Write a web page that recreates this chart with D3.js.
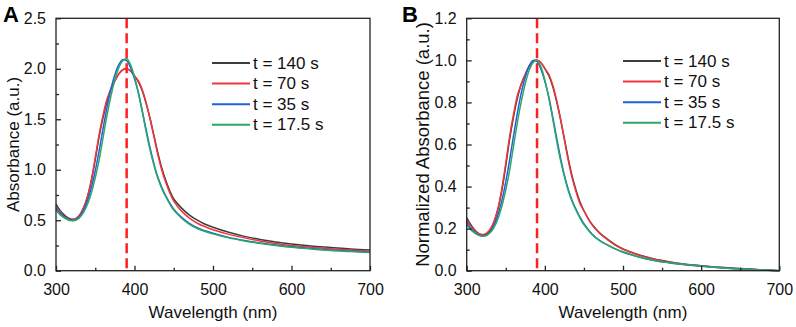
<!DOCTYPE html>
<html><head><meta charset="utf-8">
<script src="https://cdn.jsdelivr.net/npm/d3@7"></script>
<style>html,body{margin:0;padding:0;background:#fff;} svg{display:block;}</style>
</head><body>
<svg id="c" width="796" height="327"></svg>
<script>
const wavelengths = [300,305,310,315,320,325,330,335,340,345,350,355,360,365,370,375,380,385,390,395,400,405,410,415,420,425,430,435,440,445,450,460,470,480,490,500,520,540,560,580,600,625,650,675,700];
const seriesNames = ["t = 140 s","t = 70 s","t = 35 s","t = 17.5 s"];
const seriesColors = ["#3c3c3c","#f2353a","#2060dc","#2aa865"];

// Panel A: absorbance
const absT140 = [0.66,0.60,0.555,0.525,0.51,0.515,0.55,0.62,0.73,0.89,1.10,1.33,1.52,1.68,1.80,1.88,1.95,1.99,2.00,1.98,1.93,1.87,1.78,1.65,1.50,1.33,1.16,1.01,0.89,0.79,0.71,0.62,0.55,0.50,0.46,0.43,0.38,0.34,0.31,0.285,0.265,0.245,0.23,0.215,0.205];
const absT70  = [0.63,0.58,0.54,0.515,0.505,0.515,0.55,0.62,0.73,0.90,1.12,1.35,1.54,1.70,1.80,1.88,1.95,1.99,2.00,1.98,1.93,1.88,1.79,1.66,1.50,1.32,1.14,0.99,0.87,0.77,0.69,0.59,0.52,0.47,0.435,0.405,0.36,0.325,0.295,0.27,0.25,0.233,0.218,0.205,0.195];
const absT35  = [0.62,0.57,0.535,0.51,0.50,0.505,0.535,0.595,0.69,0.82,0.99,1.19,1.41,1.62,1.80,1.94,2.04,2.09,2.08,2.01,1.90,1.76,1.58,1.39,1.21,1.05,0.92,0.82,0.74,0.67,0.61,0.53,0.47,0.425,0.395,0.37,0.33,0.30,0.275,0.255,0.237,0.22,0.205,0.194,0.185];
const absT17  = [0.60,0.555,0.525,0.505,0.495,0.50,0.525,0.575,0.655,0.77,0.92,1.10,1.32,1.54,1.73,1.89,2.01,2.08,2.10,2.04,1.92,1.76,1.57,1.37,1.19,1.04,0.91,0.81,0.73,0.66,0.60,0.52,0.46,0.418,0.388,0.365,0.325,0.295,0.27,0.25,0.232,0.215,0.20,0.19,0.18];

// Panel B: normalized absorbance
const normT140 = [0.253,0.220,0.195,0.178,0.170,0.173,0.192,0.231,0.292,0.382,0.499,0.627,0.733,0.822,0.889,0.933,0.972,0.994,1.000,0.989,0.961,0.928,0.877,0.805,0.721,0.627,0.532,0.448,0.382,0.326,0.285,0.222,0.180,0.150,0.124,0.104,0.076,0.056,0.042,0.031,0.024,0.016,0.010,0.005,0];
const normT70  = [0.241,0.213,0.191,0.177,0.172,0.177,0.197,0.235,0.296,0.391,0.512,0.640,0.745,0.834,0.889,0.934,0.972,0.994,1.000,0.989,0.961,0.934,0.884,0.812,0.723,0.623,0.524,0.440,0.374,0.319,0.285,0.220,0.178,0.148,0.122,0.102,0.074,0.054,0.040,0.030,0.023,0.015,0.009,0.004,0];
const normT35  = [0.228,0.202,0.184,0.171,0.165,0.168,0.184,0.215,0.265,0.333,0.423,0.528,0.643,0.753,0.848,0.921,0.974,1.000,0.995,0.958,0.900,0.827,0.732,0.633,0.538,0.454,0.386,0.333,0.291,0.255,0.223,0.176,0.144,0.123,0.104,0.088,0.065,0.048,0.037,0.028,0.021,0.014,0.008,0.004,0];
const normT17  = [0.219,0.195,0.180,0.169,0.164,0.167,0.180,0.206,0.247,0.307,0.385,0.479,0.594,0.708,0.807,0.891,0.953,0.990,1.000,0.969,0.906,0.823,0.724,0.620,0.526,0.448,0.380,0.328,0.286,0.250,0.219,0.174,0.143,0.122,0.104,0.090,0.066,0.049,0.038,0.029,0.022,0.014,0.008,0.004,0];

const xTicks = [300,400,500,600,700];
const yTicksA = [0.0,0.5,1.0,1.5,2.0,2.5];
const yTicksB = [0.0,0.2,0.4,0.6,0.8,1.0,1.2];
const markerWavelength = 390;

const svg = d3.select("#c");
const FONT = "'Liberation Sans', Arial, sans-serif";

function panel(opts){
  const {left,right,top,bottom,yMax,yTicks,yMinor,series,yTitle,yTitleSize,letter,letterX,yTitleX,legendX,legendY} = opts;
  const g = svg.append("g");
  const x = d3.scaleLinear().domain([300,700]).range([left,right]);
  const y = d3.scaleLinear().domain([0,yMax]).range([bottom,top]);

  const line = d3.line().x((d,i)=>x(wavelengths[i])).y(d=>y(d)).curve(d3.curveCatmullRom.alpha(0.5));
  series.forEach((s,k)=>{
    g.append("path").attr("d", line(s)).attr("fill","none")
      .attr("stroke", seriesColors[k]).attr("stroke-width",1.5);
  });

  g.append("line").attr("x1",x(markerWavelength)).attr("x2",x(markerWavelength))
    .attr("y1",top).attr("y2",bottom).attr("stroke","#ff1f1f").attr("stroke-width",2.5)
    .attr("stroke-dasharray","10,5");

  g.append("rect").attr("x",left).attr("y",top).attr("width",right-left).attr("height",bottom-top)
    .attr("fill","none").attr("stroke","#222").attr("stroke-width",1.3);

  const xMinor = d3.range(350,700,100);
  const xa = g.append("g").attr("transform",`translate(0,${bottom})`)
    .call(d3.axisBottom(x).tickValues(xTicks).tickSize(-5).tickPadding(13).tickFormat(d3.format("d")));
  xa.select(".domain").remove();
  xa.selectAll("text").attr("font-family",FONT).attr("font-size",16).attr("fill","#111");
  xa.selectAll("line").attr("stroke","#222").attr("stroke-width",1.3);
  const xm = g.append("g").attr("transform",`translate(0,${bottom})`)
    .call(d3.axisBottom(x).tickValues(xMinor).tickSize(-3).tickFormat(""));
  xm.select(".domain").remove();
  xm.selectAll("line").attr("stroke","#222").attr("stroke-width",1.3);

  const ya = g.append("g").attr("transform",`translate(${left},0)`)
    .call(d3.axisLeft(y).tickValues(yTicks).tickSize(-5).tickPadding(10).tickFormat(d3.format(".1f")));
  ya.select(".domain").remove();
  ya.selectAll("text").attr("font-family",FONT).attr("font-size",16).attr("fill","#111");
  ya.selectAll("line").attr("stroke","#222").attr("stroke-width",1.3);
  const ym = g.append("g").attr("transform",`translate(${left},0)`)
    .call(d3.axisLeft(y).tickValues(yMinor).tickSize(-3).tickFormat(""));
  ym.select(".domain").remove();
  ym.selectAll("line").attr("stroke","#222").attr("stroke-width",1.3);

  g.append("text").attr("x",(left+right)/2).attr("y",318).attr("text-anchor","middle")
    .attr("font-family",FONT).attr("font-size",17).attr("fill","#111").text("Wavelength (nm)");
  g.append("text").attr("transform",`translate(${yTitleX},${(top+bottom)/2}) rotate(-90)`)
    .attr("text-anchor","middle").attr("dominant-baseline","central")
    .attr("font-family",FONT).attr("font-size",yTitleSize).attr("fill","#111").text(yTitle);
  g.append("text").attr("x",letterX).attr("y",22).attr("font-family",FONT).attr("font-weight","bold")
    .attr("font-size",22).attr("fill","#000").text(letter);

  seriesNames.forEach((n,k)=>{
    const yy = legendY + k*20.6;
    g.append("line").attr("x1",legendX).attr("x2",legendX+38).attr("y1",yy).attr("y2",yy)
      .attr("stroke",seriesColors[k]).attr("stroke-width",2);
    g.append("text").attr("x",legendX+41).attr("y",yy).attr("dominant-baseline","central")
      .attr("font-family",FONT).attr("font-size",17).attr("fill","#111").text(n);
  });
}

panel({left:56,right:370,top:18.3,bottom:270.7,yMax:2.5,yTicks:yTicksA,
  yMinor:d3.range(0.25,2.5,0.5),series:[absT140,absT70,absT35,absT17],
  yTitle:"Absorbance (a.u.)",yTitleSize:17,letter:"A",letterX:3,yTitleX:13,legendX:212,legendY:63});
panel({left:466.7,right:779.3,top:18.3,bottom:270.7,yMax:1.2,yTicks:yTicksB,
  yMinor:d3.range(0.1,1.2,0.2),series:[normT140,normT70,normT35,normT17],
  yTitle:"Normalized Absorbance (a.u.)",yTitleSize:18.5,letter:"B",letterX:402,yTitleX:422,legendX:623,legendY:61});
</script>
</body></html>
